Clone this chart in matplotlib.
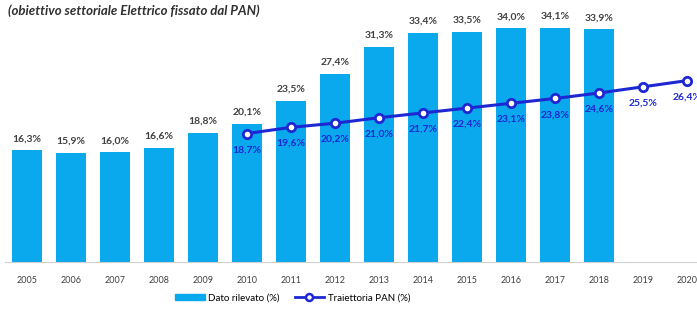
import matplotlib
matplotlib.use("Agg")
import matplotlib.pyplot as plt
from matplotlib.lines import Line2D
from matplotlib.patches import Patch

plt.rcParams['font.family'] = ['Lato', 'DejaVu Sans']

years = ['2005', '2006', '2007', '2008', '2009', '2010', '2011', '2012',
         '2013', '2014', '2015', '2016', '2017', '2018', '2019', '2020']
dato_rilevato = [16.3, 15.9, 16.0, 16.6, 18.8, 20.1, 23.5, 27.4,
                 31.3, 33.4, 33.5, 34.0, 34.1, 33.9]
traiettoria_years = ['2010', '2011', '2012', '2013', '2014', '2015',
                     '2016', '2017', '2018', '2019', '2020']
traiettoria_pan = [18.7, 19.6, 20.2, 21.0, 21.7, 22.4, 23.1, 23.8, 24.6, 25.5, 26.4]

bar_color = '#0AA8EC'
line_color = '#1E28D2'
text_gray = '#404040'

fig = plt.figure(figsize=(6.97, 3.13), dpi=100)
ax = fig.add_axes([0.0072, 0.163, 1.01, 0.834])

x_bars = list(range(len(dato_rilevato)))
ax.bar(x_bars, dato_rilevato, width=0.66, color=bar_color, zorder=2)
for x, v in zip(x_bars, dato_rilevato):
    ax.text(x, v + 1.0, f'{v:.1f}%'.replace('.', ','), ha='center', va='bottom',
            fontsize=7.5, color=text_gray, fontweight='bold')

x_line = [years.index(y) for y in traiettoria_years]
ax.plot(x_line, traiettoria_pan, color=line_color, linewidth=2.2, marker='o',
        markersize=6, markerfacecolor='white', markeredgecolor=line_color,
        markeredgewidth=2, zorder=3)
for x, v in zip(x_line, traiettoria_pan):
    ax.text(x, v - 1.7, f'{v:.1f}%'.replace('.', ','), ha='center', va='top',
            fontsize=7.5, color=line_color, fontweight='bold', zorder=4)

ax.set_xlim(-0.5, len(years) - 0.5)
ax.set_ylim(0, 38)
ax.set_xticks(range(len(years)))
ax.set_xticklabels(years, fontsize=6.5, color=text_gray)
ax.tick_params(axis='x', length=0, pad=10)
ax.set_yticks([])
for side in ['top', 'right', 'left']:
    ax.spines[side].set_visible(False)
ax.spines['bottom'].set_color('#D0D0D0')

fig.text(0.012, 0.965, '(obiettivo settoriale Elettrico fissato dal PAN)',
         fontsize=9.5, fontweight='bold', fontstyle='italic', color='#303030',
         ha='left', va='center')

handles = [Patch(color=bar_color, label='Dato rilevato (%)'),
           Line2D([0], [0], color=line_color, linewidth=2, marker='o',
                  markersize=5, markerfacecolor='white', markeredgewidth=1.8,
                  label='Traiettoria PAN (%)')]
fig.legend(handles=handles, loc='center', bbox_to_anchor=(0.42, 0.048), ncol=2,
           frameon=False, fontsize=7, handlelength=3, columnspacing=1.5,
           handletextpad=0.4)

fig.savefig('out.png', dpi=100)
